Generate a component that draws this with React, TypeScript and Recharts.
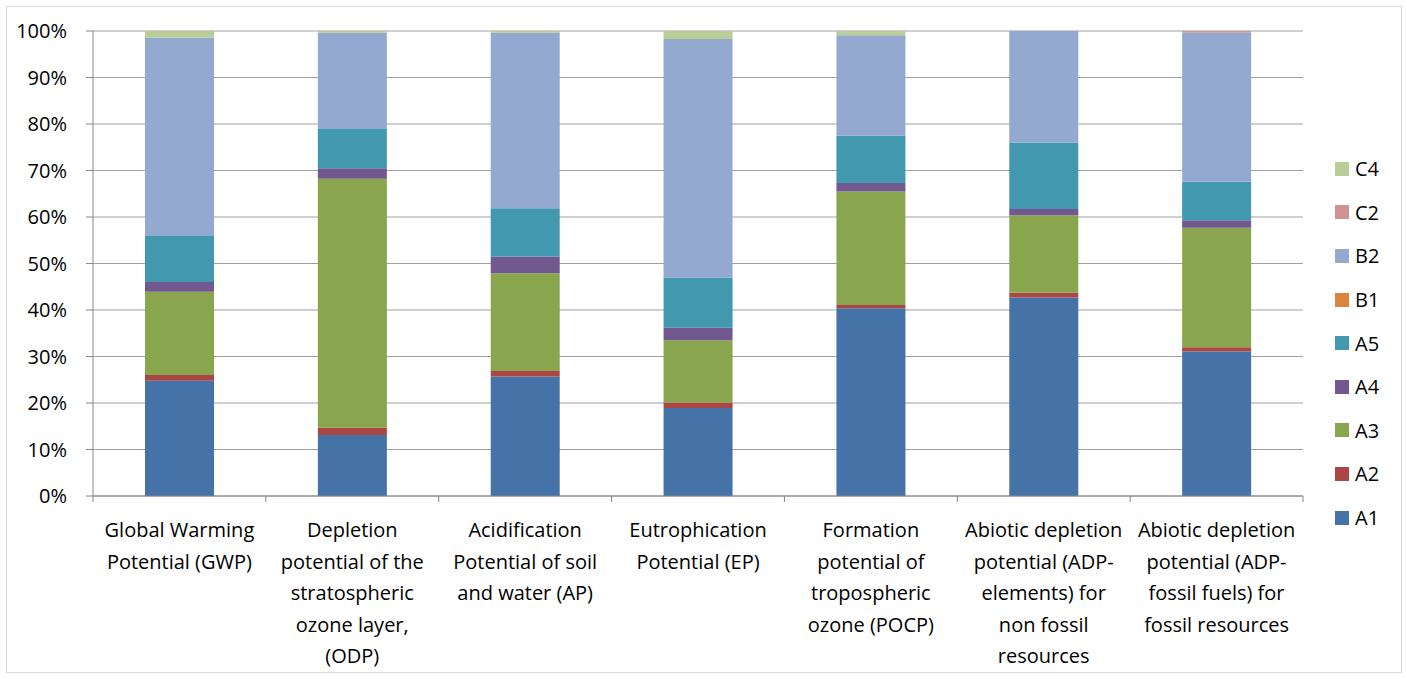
import React from 'react'
import { BarChart, Bar, XAxis, YAxis, CartesianGrid } from 'recharts'

// impact categories, label split into the lines shown under each bar
const categoryLines = [
  ['Global Warming', 'Potential (GWP)'],
  ['Depletion', 'potential of the', 'stratospheric', 'ozone layer,', '(ODP)'],
  ['Acidification', 'Potential of soil', 'and water (AP)'],
  ['Eutrophication', 'Potential (EP)'],
  ['Formation', 'potential of', 'tropospheric', 'ozone (POCP)'],
  ['Abiotic depletion', 'potential (ADP-', 'elements)  for', 'non fossil', 'resources'],
  ['Abiotic depletion', 'potential (ADP-', 'fossil fuels) for', 'fossil resources'],
]
const categories = categoryLines.map((l) => l.join(' '))

// share of each life cycle stage, in percent
const A1 = [24.8, 13.1, 25.7, 18.9, 40.4, 42.7, 31.1]
const A2 = [1.2, 1.6, 1.2, 1.2, 0.7, 1.0, 0.9]
const A3 = [17.9, 53.5, 21.0, 13.4, 24.4, 16.7, 25.7]
const A4 = [2.1, 2.3, 3.6, 2.7, 1.8, 1.3, 1.6]
const A5 = [9.9, 8.4, 10.4, 10.8, 10.2, 14.3, 8.3]
const B1 = [0, 0, 0, 0, 0, 0, 0]
const B2 = [42.7, 20.7, 37.7, 51.3, 21.6, 24.0, 32.0]
const C2 = [0, 0, 0, 0, 0, 0, 0.4]
const C4 = [1.4, 0.4, 0.4, 1.7, 0.9, 0, 0]

const yTicks = [0, 10, 20, 30, 40, 50, 60, 70, 80, 90, 100]

const series = [
  { key: 'A1', values: A1, color: '#4572A7' },
  { key: 'A2', values: A2, color: '#AA4643' },
  { key: 'A3', values: A3, color: '#89A54E' },
  { key: 'A4', values: A4, color: '#71588F' },
  { key: 'A5', values: A5, color: '#4198AF' },
  { key: 'B1', values: B1, color: '#DB843D' },
  { key: 'B2', values: B2, color: '#93A9CF' },
  { key: 'C2', values: C2, color: '#D19392' },
  { key: 'C4', values: C4, color: '#B9CD96' },
]

const data = categories.map((name, i) => {
  const row: any = { name }
  series.forEach((s) => (row[s.key] = s.values[i]))
  return row
})

const FONT = '"Open Sans", sans-serif'
const PLOT_LEFT = 93
const PLOT_RIGHT = 1303
const STEP = (PLOT_RIGHT - PLOT_LEFT) / categories.length

function CategoryTick(props: any) {
  const { x, y, index } = props
  const lines = categoryLines[index] || []
  return (
    <g>
      <line x1={x - STEP / 2} x2={x - STEP / 2} y1={y} y2={y + 6} stroke="#868686" />
      {index === categories.length - 1 && (
        <line x1={x + STEP / 2} x2={x + STEP / 2} y1={y} y2={y + 6} stroke="#868686" />
      )}
      <text x={x} y={y + 41} textAnchor="middle" fill="#000" fontSize={20} fontFamily={FONT}>
        {lines.map((l: string, i: number) => (
          <tspan key={i} x={x} dy={i === 0 ? 0 : 31.5}>
            {l}
          </tspan>
        ))}
      </text>
    </g>
  )
}

export default function App() {
  const legendItems = [...series].reverse()
  return (
    <div style={{ position: 'absolute', left: 0, top: 0, width: 1407, height: 679, background: '#fff' }}>
      <div
        style={{
          position: 'absolute',
          left: 6,
          top: 6,
          width: 1394,
          height: 665,
          border: '1px solid #d9d9d9',
        }}
      />
      <BarChart
        width={1407}
        height={679}
        data={data}
        margin={{ top: 31, right: 1407 - PLOT_RIGHT, bottom: 13, left: 0 }}
        barSize={69}
      >
        <CartesianGrid vertical={false} stroke="#a0a0a0" />
        <XAxis
          dataKey="name"
          height={170}
          interval={0}
          tickLine={false}
          tickSize={0}
          tickMargin={0}
          stroke="#868686"
          tick={<CategoryTick />}
        />
        <YAxis
          width={PLOT_LEFT}
          domain={[0, 100]}
          ticks={yTicks}
          allowDataOverflow
          tickSize={7}
          tickMargin={19}
          stroke="#868686"
          tickFormatter={(v) => `${v}%`}
          tick={{ fill: '#000', fontSize: 20, fontFamily: FONT }}
        />
        {series.map((s) => (
          <Bar key={s.key} dataKey={s.key} stackId="a" fill={s.color} isAnimationActive={false} />
        ))}
      </BarChart>
      <div style={{ position: 'absolute', left: 1335, top: 147, fontFamily: FONT, fontSize: 20 }}>
        {legendItems.map((s) => (
          <div key={s.key} style={{ height: 43.6, display: 'flex', alignItems: 'center' }}>
            <span style={{ width: 14, height: 14, background: s.color, marginRight: 6 }} />
            <span style={{ color: '#000' }}>{s.key}</span>
          </div>
        ))}
      </div>
    </div>
  )
}
